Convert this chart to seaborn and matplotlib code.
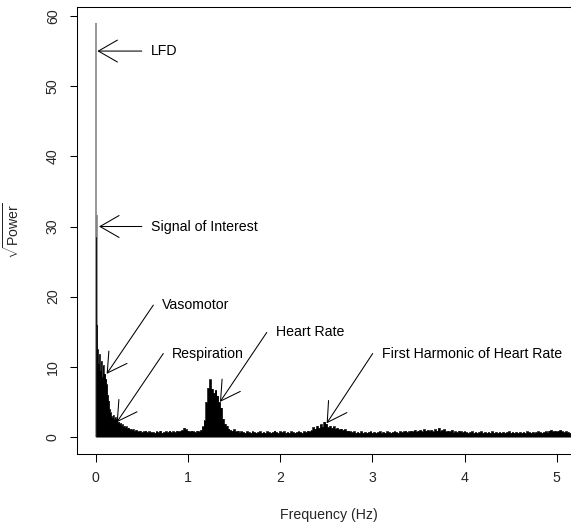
import numpy as np
import pandas as pd
import matplotlib
matplotlib.use("Agg")
import matplotlib.pyplot as plt
import seaborn as sns

# ---------------- data ----------------
# low-frequency band: 0.00 .. 0.40 Hz, step 0.01 Hz
low_freq_start = 0.0
low_freq_step = 0.01
low_sqrt_power = [
    28.5, 16.0, 12.5, 10.5, 11.8, 9.5, 10.8, 8.6, 10.2, 8.8,
    9.0, 8.3, 7.5, 6.0, 5.2, 4.0, 3.5, 3.0, 2.8, 3.1,
    2.6, 2.8, 2.4, 2.6, 2.1, 2.2, 1.9, 2.0, 1.7, 1.8,
    1.5, 1.6, 1.4, 1.5, 1.3, 1.2, 1.3, 1.1, 1.2, 1.0,
    1.1,
]
# rest of the spectrum: 0.42 .. 5.20 Hz, step 0.02 Hz
high_freq_start = 0.42
high_freq_step = 0.02
high_sqrt_power = [
    0.9, 1.0, 0.8, 0.9, 0.7, 0.8, 0.9, 0.7, 0.8, 0.7,   # 0.42-0.60
    0.7, 0.6, 0.8, 0.7, 0.9, 0.6, 0.7, 0.8, 0.7, 0.9,   # 0.62-0.80
    0.7, 0.8, 0.7, 0.9, 0.8, 0.9, 1.0, 1.3, 1.1, 0.9,   # 0.82-1.00
    0.8, 0.9, 0.8, 0.7, 0.9, 0.8, 1.0, 1.5, 2.4, 5.0,   # 1.02-1.20
    7.0, 8.2, 6.9, 6.3, 6.7, 5.9, 5.0, 4.2, 2.6, 1.9,   # 1.22-1.40
    1.6, 1.2, 1.0, 0.9, 1.1, 0.8, 0.9, 0.7, 0.8, 0.7,   # 1.42-1.60
    0.6, 0.8, 0.7, 0.6, 0.8, 0.7, 0.6, 0.7, 0.8, 0.6,   # 1.62-1.80
    0.7, 0.6, 0.8, 0.7, 0.6, 0.7, 0.9, 0.7, 0.6, 0.8,   # 1.82-2.00
    0.7, 0.8, 0.6, 0.7, 0.6, 0.8, 0.7, 0.6, 0.7, 0.8,   # 2.02-2.20
    0.7, 0.6, 0.8, 0.7, 0.9, 0.8, 1.0, 1.4, 1.2, 1.6,   # 2.22-2.40
    1.3, 1.8, 1.5, 2.2, 1.9, 1.4, 1.6, 1.3, 1.5, 1.2,   # 2.42-2.60
    1.3, 1.1, 1.2, 1.0, 1.1, 0.9, 0.9, 0.8, 0.7, 0.8,   # 2.62-2.80
    0.6, 0.7, 0.6, 0.8, 0.6, 0.7, 0.6, 0.7, 0.8, 0.6,   # 2.82-3.00
    0.7, 0.6, 0.7, 0.8, 0.6, 0.7, 0.6, 0.8, 0.7, 0.6,   # 3.02-3.20
    0.7, 0.8, 0.7, 0.6, 0.8, 0.7, 0.8, 0.9, 0.7, 0.8,   # 3.22-3.40
    0.9, 0.8, 1.0, 0.8, 0.9, 1.0, 0.8, 1.1, 0.9, 1.0,   # 3.42-3.60
    0.9, 1.0, 0.8, 1.1, 0.9, 1.3, 0.9, 1.0, 1.1, 0.8,   # 3.62-3.80
    0.9, 0.8, 1.0, 0.7, 0.8, 0.7, 0.9, 0.8, 0.7, 0.8,   # 3.82-4.00
    0.7, 0.6, 0.7, 0.8, 0.6, 0.7, 0.6, 0.7, 0.8, 0.6,   # 4.02-4.20
    0.7, 0.6, 0.7, 0.6, 0.8, 0.6, 0.7, 0.6, 0.7, 0.6,   # 4.22-4.40
    0.7, 0.6, 0.7, 0.8, 0.6, 0.7, 0.6, 0.7, 0.6, 0.7,   # 4.42-4.60
    0.6, 0.7, 0.6, 0.8, 0.7, 0.6, 0.7, 0.6, 0.7, 0.8,   # 4.62-4.80
    0.7, 0.6, 0.7, 0.8, 0.7, 0.9, 1.0, 0.8, 0.9, 0.8,   # 4.82-5.00
    0.9, 1.0, 0.8, 0.7, 0.8, 0.7, 0.6, 0.7, 0.8, 0.7,   # 5.02-5.20
]
# isolated tall spikes (drawn grey in the reference)
spike_freq = [0.0, 0.012]
spike_sqrt_power = [59.0, 31.6]

# annotations
annotation_labels = ["LFD", "Signal of Interest", "Vasomotor", "Respiration",
                     "Heart Rate", "First Harmonic of Heart Rate"]
arrow_tip_freq = [0.018, 0.036, 0.119, 0.228, 1.348, 2.505]
arrow_tip_power = [55.0, 30.0, 9.0, 2.1, 5.0, 1.95]
arrow_tail_freq = [0.50, 0.50, 0.625, 0.733, 1.855, 3.004]
arrow_tail_power = [55.0, 30.0, 18.8, 11.9, 14.9, 11.9]

x_ticks = [0, 1, 2, 3, 4, 5]
y_ticks = [0, 10, 20, 30, 40, 50, 60]

# ---------------- build table ----------------
low_freq = np.round(low_freq_start + low_freq_step * np.arange(len(low_sqrt_power)), 4)
high_freq = np.round(high_freq_start + high_freq_step * np.arange(len(high_sqrt_power)), 4)
spec = pd.DataFrame({
    "freq": np.concatenate([low_freq, high_freq]),
    "sqrt_power": np.concatenate([low_sqrt_power, high_sqrt_power]),
})

# ---------------- style ----------------
sns.set_style("ticks")
plt.rcParams["font.family"] = ["Liberation Sans", "DejaVu Sans"]
plt.rcParams["mathtext.fontset"] = "custom"
plt.rcParams["mathtext.rm"] = "Liberation Sans"
plt.rcParams["mathtext.it"] = "Liberation Sans:italic"
FS = 10.2

W, H = 571, 522
fig = plt.figure(figsize=(W / 100, H / 100), dpi=100)
ax = fig.add_axes([77 / W, (H - 454) / H, 504.6 / W, 447 / H])

# grey tall spikes
ax.vlines(spike_freq, 0, spike_sqrt_power, color="#7a7a7a", lw=1.1, zorder=1)

# spectrum (dense vertical lines in the reference -> filled step area)
ax.fill_between(spec["freq"], 0, spec["sqrt_power"], step="mid",
                color="black", lw=0, zorder=2)
sns.lineplot(data=spec, x="freq", y="sqrt_power", drawstyle="steps-mid",
             color="black", lw=0.5, estimator=None, ax=ax, zorder=3)

# annotations
for lab, tf, tp, sf, sp in zip(annotation_labels, arrow_tip_freq, arrow_tip_power,
                               arrow_tail_freq, arrow_tail_power):
    ax.annotate("", xy=(tf, tp), xytext=(sf, sp),
                arrowprops=dict(arrowstyle="->,head_length=13.7,head_width=7.9",
                                mutation_scale=1, lw=0.75, color="black",
                                shrinkA=0, shrinkB=0))
    ax.text(sf + 0.098, sp, lab, ha="left", va="center", fontsize=FS, color="black")

# axes
ax.set_xlim(-0.2028, 5.27)
ax.set_ylim(-2.42, 61.28)
ax.set_xticks(x_ticks)
ax.set_yticks(y_ticks)
ax.set_xticklabels([str(t) for t in x_ticks], fontsize=FS)
ax.set_yticklabels([str(t) for t in y_ticks], fontsize=FS, rotation=90, va="center")
ax.tick_params(direction="out", length=5.4, width=0.75, color="black", pad=7)
for s in ax.spines.values():
    s.set_visible(True)
    s.set_linewidth(0.75)
    s.set_color("black")

ax.set_xlabel("Frequency (Hz)", fontsize=FS, va="center")
ax.set_ylabel(r"$\sqrt{\mathrm{Power}}$", fontsize=FS, va="center")
ax.xaxis.set_label_coords(0.5, (454 - 515) / 447)
ax.yaxis.set_label_coords((12 - 77) / 504.6, 0.5)

fig.savefig("out.png", dpi=100)
